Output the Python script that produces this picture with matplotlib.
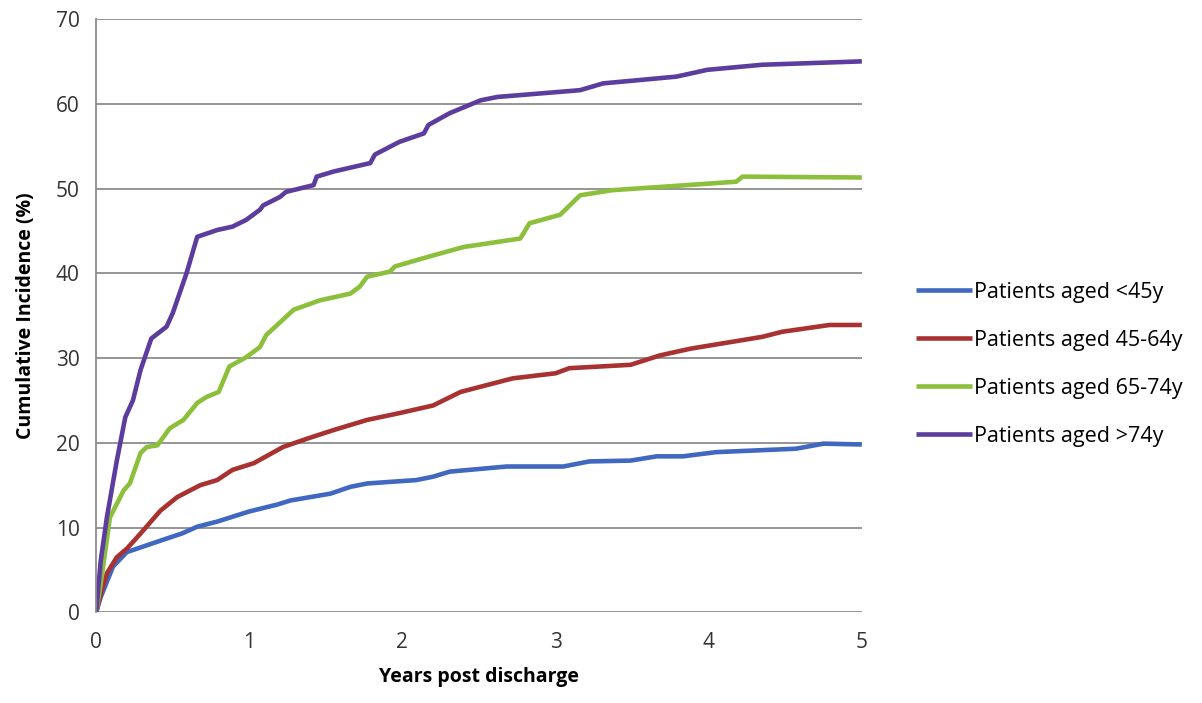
import matplotlib.pyplot as plt

# values (years, cumulative incidence %)
x_u45 = [0, 0.03, 0.11, 0.2, 0.33, 0.46, 0.56, 0.66, 0.79, 1.0, 1.18, 1.27, 1.53, 1.66, 1.77,
         2.09, 2.2, 2.31, 2.68, 3.05, 3.22, 3.49, 3.66, 3.83, 4.05, 4.57, 4.75, 5.0]
y_u45 = [0, 1.8, 5.4, 7.1, 7.9, 8.7, 9.3, 10.1, 10.7, 11.9, 12.7, 13.2, 14.0, 14.8, 15.2,
         15.6, 16.0, 16.6, 17.2, 17.2, 17.8, 17.9, 18.4, 18.4, 18.9, 19.3, 19.9, 19.8]

x_45_64 = [0, 0.03, 0.07, 0.135, 0.2, 0.29, 0.42, 0.53, 0.68, 0.79, 0.89, 1.03, 1.22, 1.38,
           1.55, 1.77, 1.98, 2.2, 2.38, 2.72, 3.0, 3.09, 3.49, 3.68, 3.88, 4.35, 4.48, 4.79, 5.0]
y_45_64 = [0, 2.2, 4.6, 6.5, 7.5, 9.3, 12.0, 13.6, 15.0, 15.6, 16.8, 17.6, 19.5, 20.5,
           21.5, 22.7, 23.5, 24.4, 26.0, 27.6, 28.2, 28.8, 29.2, 30.3, 31.1, 32.5, 33.1, 33.9, 33.9]

x_65_74 = [0, 0.03, 0.09, 0.18, 0.22, 0.29, 0.33, 0.40, 0.48, 0.57, 0.66, 0.72, 0.80, 0.87,
           0.98, 1.07, 1.11, 1.29, 1.46, 1.66, 1.72, 1.77, 1.92, 1.95, 2.18, 2.40, 2.77, 2.83,
           3.03, 3.16, 3.37, 4.18, 4.22, 5.0]
y_65_74 = [0, 3.4, 11.2, 14.4, 15.2, 18.8, 19.5, 19.7, 21.7, 22.7, 24.7, 25.4, 26.0, 29.0,
           30.1, 31.3, 32.7, 35.7, 36.8, 37.6, 38.4, 39.6, 40.2, 40.8, 42.0, 43.1, 44.1, 45.9,
           46.9, 49.2, 49.8, 50.8, 51.4, 51.3]

x_o74 = [0, 0.03, 0.07, 0.135, 0.19, 0.24, 0.29, 0.36, 0.46, 0.50, 0.59, 0.66, 0.79, 0.89,
         0.98, 1.07, 1.09, 1.2, 1.24, 1.42, 1.44, 1.55, 1.79, 1.82, 1.98, 2.14, 2.17, 2.31,
         2.51, 2.62, 3.16, 3.31, 3.79, 3.99, 4.35, 5.0]
y_o74 = [0, 6.1, 11.2, 17.9, 23.0, 25.0, 28.6, 32.3, 33.7, 35.3, 40.0, 44.3, 45.1, 45.5,
         46.3, 47.5, 48.0, 49.0, 49.6, 50.4, 51.4, 52.0, 53.0, 54.0, 55.5, 56.5, 57.5, 58.9,
         60.4, 60.8, 61.6, 62.4, 63.2, 64.0, 64.6, 65.0]

labels = ['Patients aged <45y', 'Patients aged 45-64y', 'Patients aged 65-74y', 'Patients aged >74y']
colors = ['#4068c0', '#a83232', '#8cc03c', '#5c3c9c']

plt.rcParams['font.family'] = ['Open Sans', 'DejaVu Sans']

fig = plt.figure(figsize=(12.02, 7.03), dpi=100)
ax = fig.add_axes([0.08, 0.129, 0.637, 0.844])

series = [(x_u45, y_u45), (x_45_64, y_45_64), (x_65_74, y_65_74), (x_o74, y_o74)]
for (xs, ys), lab, c in zip(series, labels, colors):
    ax.plot(xs, ys, color=c, lw=3.3, label=lab, solid_capstyle='butt')

ax.set_xlim(0, 5)
ax.set_ylim(0, 70)
ax.set_yticks(range(0, 71, 10))
ax.set_xticks(range(0, 6))
ax.grid(axis='y', color='#8c8c8c', lw=1.3)
ax.set_axisbelow(True)
for s in ['top', 'right', 'bottom']:
    ax.spines[s].set_visible(False)
ax.spines['left'].set_color('#8c8c8c')
ax.spines['left'].set_linewidth(1.3)
ax.tick_params(length=0, labelsize=15, colors='#333333', pad=12)
ax.tick_params(axis='x', pad=14)

ax.set_xlabel('Years post discharge', fontsize=14, fontweight='bold', labelpad=10)
ax.set_ylabel('Cumulative Incidence (%)', fontsize=14, fontweight='bold', labelpad=14)

fig.legend(loc='center left', bbox_to_anchor=(0.746, 0.482), frameon=False,
           fontsize=15.5, handlelength=2.6, handletextpad=0.1, labelspacing=1.25)

fig.savefig('out.png', dpi=100)
